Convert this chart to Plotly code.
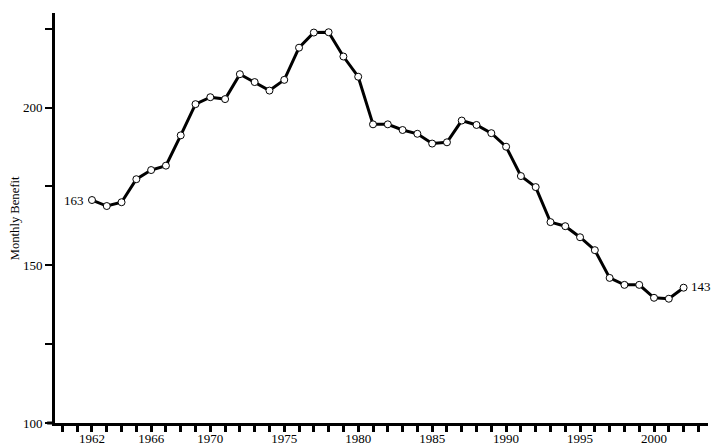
import plotly.graph_objects as go

# 年ごとの月額給付
years = list(range(1962, 2003))
benefit = [
    170.7, 168.8, 170.0, 177.3, 180.2, 181.6, 191.2, 201.1, 203.3, 202.7,
    210.6, 208.1, 205.4, 208.8, 219.0, 223.8, 223.9, 216.2, 209.8, 194.7,
    194.7, 192.9, 191.7, 188.6, 189.0, 195.9, 194.5, 191.9, 187.6, 178.3,
    174.8, 163.7, 162.4, 158.9, 154.8, 146.0, 143.8, 143.8, 139.7, 139.4,
    142.9,
]
start_label = "163"
end_label = "143"

x_tick_years = list(range(1960, 2004))
x_label_years = [1962, 1966, 1970, 1975, 1980, 1985, 1990, 1995, 2000]
y_tick_vals = [100, 125, 150, 175, 200, 225]
y_label_vals = [100, 150, 200]

FONT = "Liberation Serif, Times New Roman, serif"

fig = go.Figure()
fig.add_trace(go.Scatter(
    x=years, y=benefit,
    mode="lines+markers",
    line={"color": "#000", "width": 3},
    marker={"symbol": "circle", "size": 7, "color": "#fff",
            "line": {"color": "#000", "width": 1}},
    hoverinfo="x+y",
))

fig.add_annotation(x=years[0], y=benefit[0], text=start_label, showarrow=False,
                   xanchor="right", xshift=-6, font={"size": 13, "family": FONT})
fig.add_annotation(x=years[-1], y=benefit[-1], text=end_label, showarrow=False,
                   xanchor="left", xshift=5, yshift=1, font={"size": 13, "family": FONT})

# y軸タイトル
fig.add_annotation(xref="paper", yref="paper", x=-0.061, y=0.5, text="Monthly Benefit",
                   textangle=-90, showarrow=False, xanchor="center", yanchor="middle",
                   font={"size": 12.6, "family": FONT})

# x軸線を左へ少し延長
fig.add_shape(type="line", xref="paper", yref="paper", x0=-0.012, x1=0, y0=0, y1=0,
              line={"color": "#000", "width": 3})

fig.update_layout(
    width=724, height=447,
    showlegend=False,
    plot_bgcolor="#fff", paper_bgcolor="#fff",
    font={"family": FONT, "size": 13, "color": "#000"},
    margin={"l": 55, "r": 16, "t": 13, "b": 24},
    xaxis={
        "range": [1959.5, 2003.65],
        "automargin": False,
        "showgrid": False, "zeroline": False,
        "showline": True, "linecolor": "#000", "linewidth": 3,
        "ticks": "outside", "ticklen": 6, "tickwidth": 3, "tickcolor": "#000",
        "ticklabelstandoff": -5,
        "tickvals": x_tick_years,
        "ticktext": [str(y) if y in x_label_years else "" for y in x_tick_years],
    },
    yaxis={
        "range": [100, 230],
        "automargin": False,
        "showgrid": False, "zeroline": False,
        "showline": True, "linecolor": "#000", "linewidth": 3,
        "ticks": "outside", "ticklen": 7, "tickwidth": 2, "tickcolor": "#000",
        "tickvals": y_tick_vals,
        "ticktext": [str(v) if v in y_label_vals else "" for v in y_tick_vals],
    },
)

# ページ余白を消して図を左上に合わせる
fig.write_html("out.html", config={"displayModeBar": False},
               post_script="document.body.style.margin='0';")
